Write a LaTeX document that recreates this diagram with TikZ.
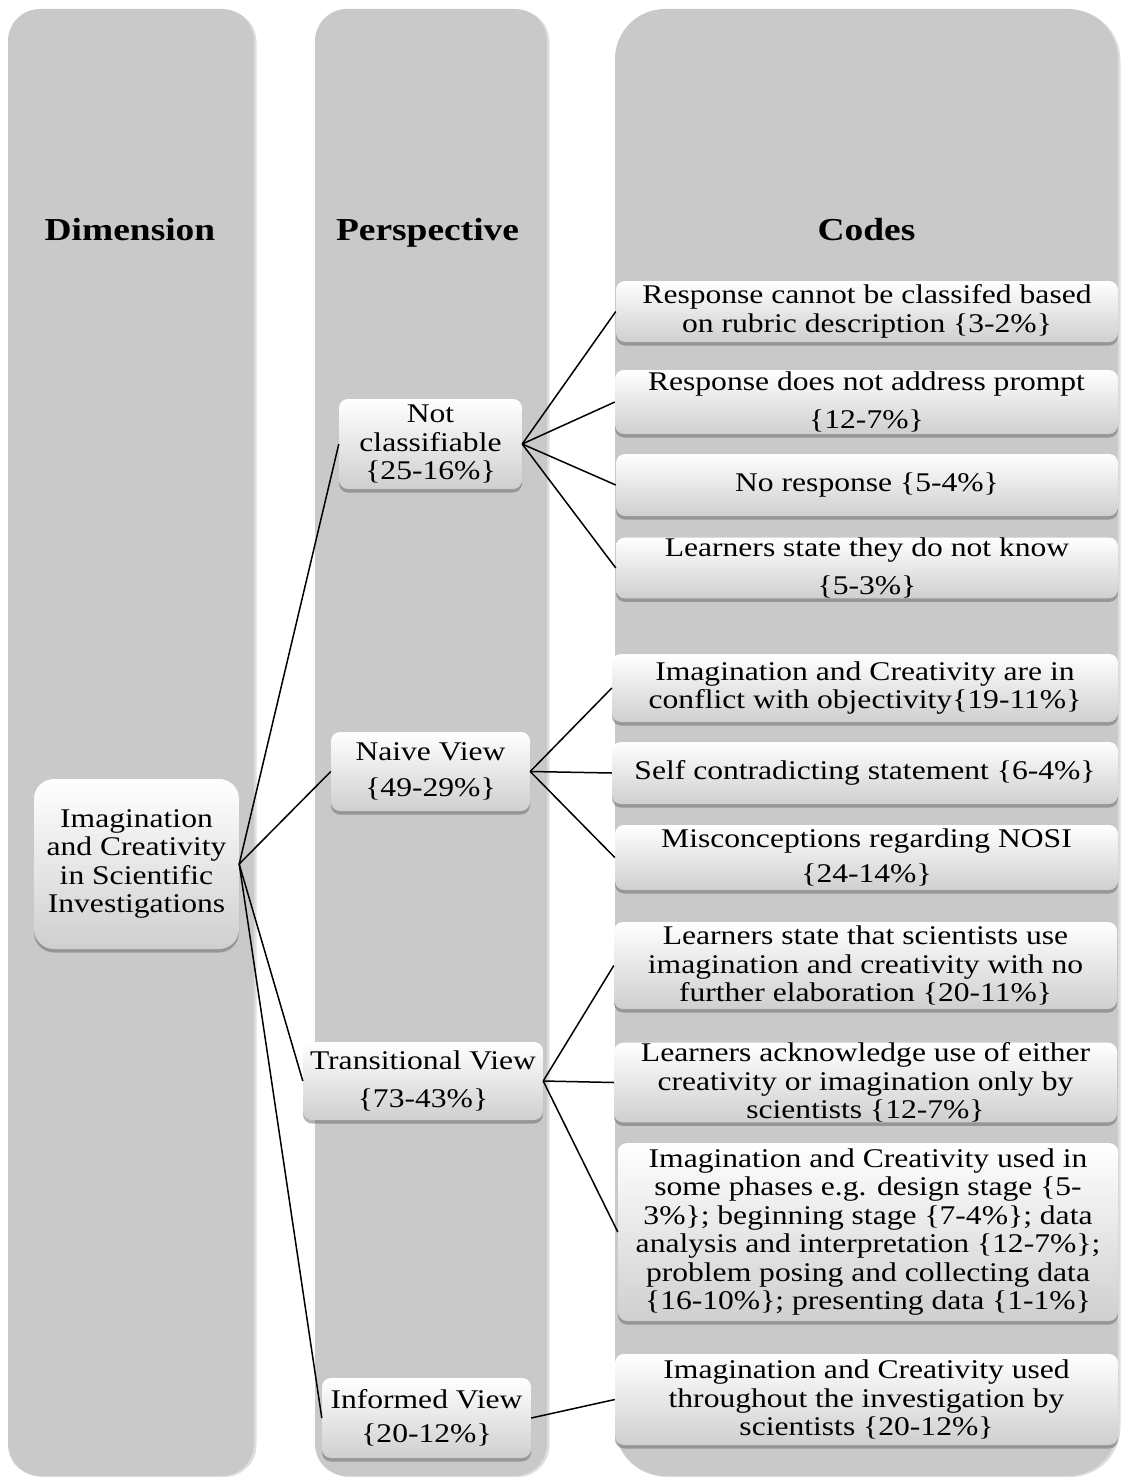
\documentclass[tikz,border=0pt]{standalone}
\usepackage{fontspec}
\setmainfont{Liberation Serif}[FakeStretch=1.17]
\usetikzlibrary{shadows}
\definecolor{colfill}{HTML}{C9C9C9}
\definecolor{boxbot}{HTML}{CFCFCF}
\tikzset{
  column/.style={fill=colfill, draw=none, drop shadow={shadow xshift=2.5pt, shadow yshift=-1pt, opacity=0.25, fill=gray}},
  hdr/.style={font=\fontsize{32}{34}\selectfont\bfseries, anchor=base, inner sep=0pt},
  gbox/.style={rounded corners=9pt, inner sep=0pt, align=center,
    top color=white, bottom color=boxbot, draw=none,
    font=\fontsize{27}{28.5}\selectfont,
    drop shadow={shadow xshift=0pt, shadow yshift=-3.5pt, opacity=0.45, fill=gray!70!black}},
  link/.style={draw=black, line width=1.5pt}
}
\begin{document}
\begin{tikzpicture}[x=1pt,y=-1pt]
\useasboundingbox (0,0) rectangle (1121,1477);
% columns
\path[column, rounded corners=32pt] (8,9) rectangle (254,1476);
\path[column, rounded corners=32pt] (315,9) rectangle (547,1476);
\path[column, rounded corners=50pt] (615,9) rectangle (1118,1476);
% headers
\node[hdr] (h1) at (130,240) {Dimension};
\node[hdr] (h2) at (427.5,240) {Perspective};
\node[hdr] (h3) at (866.5,240) {Codes};
% dimension
\node[gbox, rounded corners=20pt, minimum width=205pt, minimum height=170pt] (d) at (136.5,864)
  {Imagination\\and Creativity\\in Scientific\\Investigations};
% perspectives
\node[gbox, minimum width=183pt, minimum height=90pt] (p1) at (430.5,444)
  {Not\\classifiable\\\{25-16\%\}};
\node[gbox, minimum width=199pt, minimum height=79pt] (p2) at (430.5,771.5)
  {Naive View\\[8pt]\{49-29\%\}};
\node[gbox, minimum width=240pt, minimum height=78pt] (p3) at (423,1081)
  {Transitional View\\[9pt]\{73-43\%\}};
\node[gbox, minimum width=209pt, minimum height=80pt] (p4) at (426.5,1418)
  {Informed View\\[5pt]\{20-12\%\}};
% codes
\node[gbox, minimum width=502pt, minimum height=61pt] (k1) at (867,311.5)
  {Response cannot be classifed based\\on rubric description \{3-2\%\}};
\node[gbox, minimum width=503pt, minimum height=64pt] (k2) at (866.5,402)
  {Response does not address prompt\\[9pt]\{12-7\%\}};
\node[gbox, minimum width=502pt, minimum height=62pt] (k3) at (867,485)
  {No response \{5-4\%\}};
\node[gbox, minimum width=502pt, minimum height=60pt] (k4) at (867,568)
  {Learners state they do not know\\[10pt]\{5-3\%\}};
\node[gbox, minimum width=506pt, minimum height=68pt] (k5) at (865,688)
  {Imagination and Creativity are in\\conflict with objectivity\{19-11\%\}};
\node[gbox, minimum width=506pt, minimum height=62pt] (k6) at (865,773)
  {Self contradicting statement \{6-4\%\}};
\node[gbox, minimum width=503pt, minimum height=65pt] (k7) at (866.5,857.5)
  {Misconceptions regarding NOSI\\[7pt]\{24-14\%\}};
\node[gbox, minimum width=503pt, minimum height=87pt] (k8) at (865.5,965.5)
  {Learners state that scientists use\\imagination and creativity with no\\further elaboration \{20-11\%\}};
\node[gbox, minimum width=503pt, minimum height=79pt] (k9) at (865.5,1082.5)
  {Learners acknowledge use of either\\creativity or imagination only by\\scientists \{12-7\%\}};
\node[gbox, minimum width=500pt, minimum height=178pt] (k10) at (868,1232)
  {Imagination and Creativity used in\\some phases e.g. design stage \{5-\\3\%\}; beginning stage \{7-4\%\}; data\\analysis and interpretation \{12-7\%\};\\problem posing and collecting data\\\{16-10\%\}; presenting data \{1-1\%\}};
\node[gbox, minimum width=503pt, minimum height=91pt] (k11) at (866.5,1399.5)
  {Imagination and Creativity used\\throughout the investigation by\\scientists \{20-12\%\}};
% connectors
\foreach \p in {p1,p2,p3,p4} \draw[link] (d.east) -- (\p.west);
\foreach \k in {k1,k2,k3,k4} \draw[link] (p1.east) -- (\k.west);
\foreach \k in {k5,k6,k7} \draw[link] (p2.east) -- (\k.west);
\foreach \k in {k8,k9,k10} \draw[link] (p3.east) -- (\k.west);
\draw[link] (p4.east) -- (k11.west);
\end{tikzpicture}
\end{document}
